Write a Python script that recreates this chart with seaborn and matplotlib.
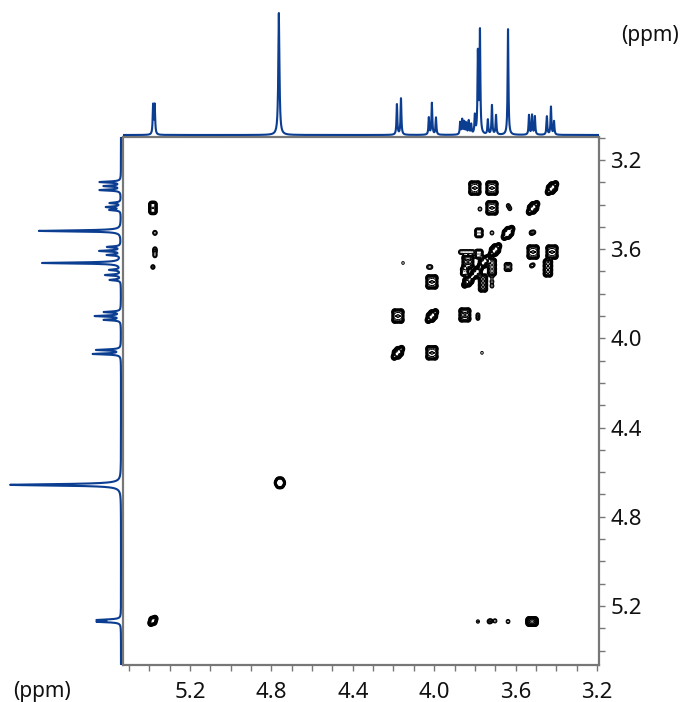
import numpy as np
import pandas as pd
import matplotlib
matplotlib.use("Agg")
import matplotlib.pyplot as plt
import seaborn as sns

# ---------------- data ----------------
# F2 (horizontal) projection: shift (ppm) and relative height
top_shift = [5.381, 5.373, 4.763, 4.183, 4.163, 4.026, 4.011, 3.991,
             3.872, 3.862, 3.852, 3.842, 3.830, 3.818, 3.800, 3.785, 3.775,
             3.736, 3.716, 3.696, 3.637, 3.534, 3.519, 3.505,
             3.446, 3.426, 3.411]
top_height = [0.24, 0.24, 1.00, 0.25, 0.30, 0.14, 0.26, 0.14,
              0.10, 0.12, 0.10, 0.09, 0.11, 0.08, 0.15, 0.66, 0.84,
              0.12, 0.24, 0.16, 0.87, 0.16, 0.16, 0.15,
              0.15, 0.23, 0.11]

# F1 (vertical) projection
left_shift = [3.299, 3.317, 3.335, 3.393, 3.411, 3.424, 3.518,
              3.590, 3.608, 3.626, 3.662, 3.693, 3.716, 3.738,
              3.882, 3.900, 3.917, 4.052, 4.070, 4.657, 5.263, 5.271]
left_height = [0.19, 0.15, 0.19, 0.10, 0.13, 0.10, 0.74,
               0.12, 0.19, 0.12, 0.71, 0.10, 0.14, 0.10,
               0.15, 0.23, 0.15, 0.22, 0.25, 1.00, 0.20, 0.20]

# cross / diagonal peaks: F2 shift, F1 shift, amplitude, multiplet shape
cp_x = [3.800, 3.716, 3.421,
        3.775, 3.716, 3.636, 3.628, 3.514, 5.382,
        3.780, 3.716, 3.637, 3.522, 3.510, 5.372,
        3.514, 3.421, 5.372, 5.372, 5.372,
        3.441, 3.716, 3.637, 3.522, 3.512, 4.153, 4.028, 4.016, 5.382,
        3.701, 3.755, 3.792, 3.832, 3.834, 3.760, 3.780, 3.850,
        3.870, 3.855, 3.840, 3.825, 3.810,
        3.716, 3.716, 3.716,
        4.011,
        4.178, 4.011, 3.849, 3.785, 3.785,
        4.178, 4.011, 3.765,
        4.758,
        5.382, 3.785, 3.730, 3.722, 3.701, 3.637, 3.519]
cp_y = [3.326, 3.326, 3.326,
        3.420, 3.415, 3.405, 3.418, 3.415, 3.415,
        3.527, 3.527, 3.527, 3.527, 3.524, 3.527,
        3.613, 3.613, 3.600, 3.612, 3.628,
        3.684, 3.680, 3.680, 3.675, 3.670, 3.662, 3.680, 3.680, 3.680,
        3.604, 3.657, 3.705, 3.742, 3.657, 3.752, 3.622, 3.700,
        3.613, 3.613, 3.613, 3.613, 3.613,
        3.722, 3.745, 3.765,
        3.747,
        3.900, 3.900, 3.895, 3.895, 3.910,
        4.065, 4.065, 4.065,
        4.648,
        5.267, 5.270, 5.270, 5.268, 5.267, 5.270, 5.270]
cp_amp = [0.8, 0.8, 1.0,
          0.2, 0.8, 0.2, 0.2, 1.0, 0.7,
          0.5, 0.2, 1.2, 0.3, 0.2, 0.3,
          0.8, 0.8, 0.25, 0.25, 0.25,
          0.8, 0.6, 0.3, 0.2, 0.15, 0.12, 0.2, 0.2, 0.25,
          1.0, 1.0, 1.0, 0.9, 0.7, 0.7, 0.5, 0.5,
          0.25, 0.25, 0.25, 0.25, 0.25,
          0.2, 0.2, 0.2,
          0.8,
          0.8, 1.0, 0.7, 0.2, 0.2,
          1.0, 0.8, 0.12,
          1.2,
          0.9, 0.15, 0.2, 0.2, 0.2, 0.2, 0.9]
cp_kind = ["sq", "sq", "dg",
           "dt", "sq", "dt", "dt", "dg", "v2",
           "sm", "dt", "dg", "dt", "dt", "dt",
           "sq", "sq", "dt", "dt", "dt",
           "tall", "tall", "sm", "dt", "dt", "dt", "dt", "dt", "dt",
           "dg", "dg", "dg", "dg", "sq", "tall", "sm", "sm",
           "dt", "dt", "dt", "dt", "dt",
           "dt", "dt", "dt",
           "sq",
           "sq", "dg", "sq", "dt", "dt",
           "dg", "sq", "dt",
           "ring",
           "dgs", "dt", "dt", "dt", "dt", "dt", "wide"]

x_ticks = [5.2, 4.8, 4.4, 4.0, 3.6, 3.2]
y_ticks = [3.2, 3.6, 4.0, 4.4, 4.8, 5.2]
x_lim = (5.529, 3.190)
y_lim = (5.465, 3.097)

# ---------------- styling ----------------
sns.set_theme(style="white")
plt.rcParams["font.family"] = ["Noto Sans", "DejaVu Sans"]
LINE = "#0b3d91"
SPINE = "#777777"

W, H = 681, 702
fig = plt.figure(figsize=(W / 100, H / 100), dpi=100)
fig.patch.set_facecolor("white")

L, R, T, B = 123, 599, 137, 665
ax = fig.add_axes([L / W, 1 - B / H, (R - L) / W, (B - T) / H])
axt = fig.add_axes([L / W, 1 - T / H, (R - L) / W, T / H])
axl = fig.add_axes([0, 1 - B / H, 122 / W, (B - T) / H])

# ---------------- 2D contour map ----------------
templates = {
    "dt": [(0, 0, 1.0)],
    "sq": [(dx, dy, 1.0 if (i + j) % 2 == 0 else 0.75)
           for i, dx in enumerate([-0.016, 0, 0.016])
           for j, dy in enumerate([-0.018, 0, 0.018])],
    "sm": [(dx, dy, 1.0) for dx in (-0.008, 0.008) for dy in (-0.009, 0.009)],
    "tall": [(dx, dy, 1.0) for dx in (-0.009, 0.009)
             for dy in (-0.027, -0.009, 0.009, 0.027)],
    "wide": [(dx, dy, 1.0) for dx in (-0.016, 0, 0.016) for dy in (-0.007, 0.007)],
    "v2": [(dx, dy, 1.0) for dx in (-0.007, 0.007) for dy in (-0.016, 0, 0.016)],
    "dg": [(t, t, 1.0) for t in (-0.018, -0.006, 0.006, 0.018)]
          + [(0.008 + s, -0.008 + s, 0.7) for s in (-0.006, 0.006)]
          + [(-0.008 + s, 0.008 + s, 0.7) for s in (-0.006, 0.006)],
    "dgs": [(t, t, 1.0) for t in (-0.010, 0, 0.010)]
           + [(0.006, -0.006, 0.7), (-0.006, 0.006, 0.7)],
    "ring": [(0.012 * np.cos(a), 0.012 * np.sin(a), 1.0)
             for a in np.linspace(0, 2 * np.pi, 7)[:-1]] + [(0, 0, 0.5)],
}

gx = np.arange(3.17, 5.55, 0.0015)
gy = np.arange(3.08, 5.48, 0.0015)
Z = np.zeros((gy.size, gx.size))
sig = 0.0068
for x0, y0, a, k in zip(cp_x, cp_y, cp_amp, cp_kind):
    for dx, dy, w in templates[k]:
        cx, cy = x0 + dx, y0 + dy
        ix = np.where(np.abs(gx - cx) < 5 * sig)[0]
        iy = np.where(np.abs(gy - cy) < 5 * sig)[0]
        if ix.size == 0 or iy.size == 0:
            continue
        fx = np.exp(-0.5 * ((gx[ix] - cx) / sig) ** 2)
        fy = np.exp(-0.5 * ((gy[iy] - cy) / sig) ** 2)
        Z[iy[0]:iy[-1] + 1, ix[0]:ix[-1] + 1] += a * w * np.outer(fy, fx)

ax.contour(gx, gy, Z, levels=[0.08, 0.13, 0.2, 0.3, 0.42, 0.56, 0.72, 0.9, 1.1],
           colors="black", linewidths=0.75)

ax.set_xlim(*x_lim)
ax.set_ylim(*y_lim)
ax.set_xticks(x_ticks)
ax.set_xticklabels([f"{v:.1f}" for v in x_ticks])
ax.set_yticks(y_ticks)
ax.set_yticklabels([f"{v:.1f}" for v in y_ticks])
ax.set_xticks(np.arange(3.2, 5.55, 0.1), minor=True)
ax.set_yticks(np.arange(3.1, 5.5, 0.1), minor=True)
ax.yaxis.tick_right()
ax.tick_params(axis="both", which="both", direction="out", length=4,
               width=1, color=SPINE, labelsize=16, labelcolor="#111111")
ax.tick_params(axis="x", which="major", pad=8)
ax.tick_params(axis="y", which="major", pad=4)
ax.tick_params(axis="y", which="both", left=False, right=True)
ax.tick_params(axis="x", which="both", top=False, bottom=True)
for s in ax.spines.values():
    s.set_color(SPINE)
    s.set_linewidth(1.6)
    s.set_visible(True)

# ---------------- 1D projections ----------------
def spectrum(grid, shifts, heights, hw):
    out = np.zeros_like(grid)
    for c, h in zip(shifts, heights):
        w = hw * 1.4 if h >= 0.99 else hw
        out += h / (1 + ((grid - c) / w) ** 2)
    return out

sx = np.linspace(x_lim[1], x_lim[0], 5000)
top_df = pd.DataFrame({"ppm": sx, "I": spectrum(sx, top_shift, top_height, 0.0024)})
sns.lineplot(data=top_df, x="ppm", y="I", ax=axt, color=LINE, linewidth=1.5,
             sort=False, estimator=None)
axt.set_xlim(*x_lim)
axt.set_ylim(-2 / 122, 1 + 13 / 122)
axt.axis("off")

sy = np.linspace(y_lim[1], y_lim[0], 5000)
left_df = pd.DataFrame({"ppm": sy, "I": spectrum(sy, left_shift, left_height, 0.0028)})
sns.lineplot(data=left_df, x="I", y="ppm", ax=axl, color=LINE, linewidth=1.5,
             sort=False, estimator=None, orient="y")
axl.set_ylim(*y_lim)
axl.set_xlim(1 + 10 / 111, -1 / 111)
axl.axis("off")

fig.text(650 / W, 1 - 36 / H, "(ppm)", ha="center", va="center",
         fontsize=15, color="#111111")
fig.text(42 / W, 1 - 691 / H, "(ppm)", ha="center", va="center",
         fontsize=15, color="#111111")

fig.savefig("out.png", dpi=100, facecolor="white")
